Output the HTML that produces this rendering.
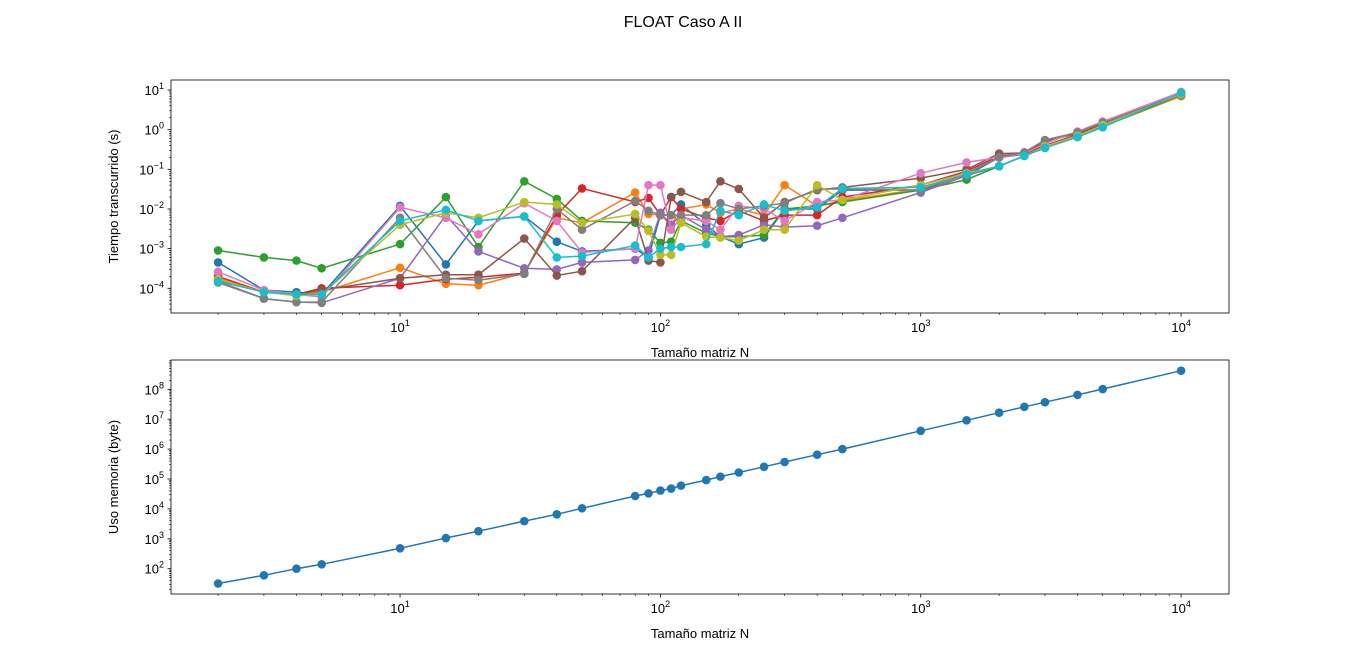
<!DOCTYPE html>
<html><head><meta charset="utf-8"><style>
html,body{margin:0;padding:0;background:#fff;}
svg{display:block;font-family:"Liberation Sans","DejaVu Sans",sans-serif;}
</style></head><body>
<svg id="fig" width="1366" height="667" viewBox="0 0 1366 667">
<text x="683" y="27" text-anchor="middle" font-size="16">FLOAT Caso A II</text>
</svg>
<script>
const Ns=[2,3,4,5,10,15,20,30,40,50,80,90,100,110,120,150,170,200,250,300,400,500,1000,1500,2000,2500,3000,4000,5000,10000];
const tBlue=[4.5e-4,9e-5,8e-5,7e-5,1.2e-2,4e-4,5e-3,6.5e-3,1.5e-3,8.5e-4,1e-3,6e-4,7e-3,7e-3,1.3e-2,4e-3,2e-3,1.3e-3,1.9e-3,1e-2,1e-2,3e-2,3e-2,7e-2,0.2,0.24,0.38,0.7,1.3,8];
const tOrange=[1.8e-4,8e-5,7e-5,8e-5,3.3e-4,1.3e-4,1.2e-4,2.4e-4,6e-3,4.5e-3,2.6e-2,7.5e-3,7e-3,4e-3,1e-2,1.3e-2,8e-3,1e-2,7e-3,4e-2,1.2e-2,1.6e-2,3.2e-2,7e-2,0.12,0.22,0.35,0.65,1.2,7];
const tGreen=[9e-4,6e-4,5e-4,3.2e-4,1.3e-3,2e-2,1.1e-3,5e-2,1.8e-2,5e-3,4.5e-3,3e-3,1.4e-3,1.5e-3,5e-3,2.5e-3,2e-3,2e-3,2.2e-3,1e-2,1.2e-2,1.5e-2,3e-2,5.5e-2,0.12,0.22,0.35,0.7,1.2,7.5];
const tRed=[2e-4,8e-5,7e-5,1e-4,1.2e-4,1.7e-4,1.9e-4,2.4e-4,7e-3,3.3e-2,1.5e-2,1.9e-2,7e-3,2e-2,1e-2,6e-3,5e-3,9e-3,5e-3,7e-3,7e-3,2e-2,4e-2,9e-2,0.22,0.25,0.4,0.75,1.4,8];
const tPurple=[1.5e-4,5.5e-5,4.5e-5,4.3e-5,1.8e-4,7e-3,8.5e-4,3.2e-4,3e-4,4.5e-4,5.2e-4,9e-4,8e-3,4e-3,7e-3,3e-3,2e-3,2.2e-3,4e-3,3.5e-3,3.8e-3,6e-3,2.6e-2,7e-2,0.12,0.22,0.38,0.7,1.3,8.5];
const tBrown=[1.6e-4,8e-5,7e-5,9e-5,1.8e-4,2.2e-4,2.2e-4,1.8e-3,2.1e-4,2.7e-4,6e-3,5e-4,4.5e-4,2e-2,2.7e-2,1.5e-2,5e-2,3.2e-2,6e-3,1.5e-2,3e-2,3.5e-2,6e-2,1e-1,0.25,0.26,0.5,0.8,1.5,8];
const tPink=[2.6e-4,9e-5,7e-5,6e-5,1.1e-2,6e-3,2.3e-3,1.4e-2,5e-3,8e-4,1e-3,4e-2,4e-2,3e-3,6e-3,5e-3,3e-3,1.2e-2,1e-2,5e-3,1.5e-2,1.7e-2,8e-2,1.5e-1,0.2,0.25,0.45,0.9,1.6,9];
const tGray=[1.4e-4,5.5e-5,4.5e-5,4.5e-5,6e-3,1.8e-4,1.6e-4,2.3e-4,1e-2,3e-3,1.6e-2,9e-3,7e-3,7e-3,7e-3,7e-3,1.4e-2,1e-2,1.2e-2,1.4e-2,3.2e-2,3.2e-2,3e-2,8e-2,0.2,0.27,0.55,0.85,1.5,7.5];
const tOlive=[1.7e-4,8e-5,6.5e-5,7e-5,4e-3,8e-3,6e-3,1.5e-2,1.3e-2,4.5e-3,7.5e-3,2.8e-3,7e-4,7e-4,4.5e-3,2e-3,1.9e-3,1.6e-3,3e-3,3e-3,4e-2,1.7e-2,4e-2,8e-2,0.12,0.22,0.38,0.7,1.3,8];
const tCyan=[1.5e-4,8e-5,7e-5,7e-5,5e-3,9.5e-3,5e-3,6.5e-3,6e-4,6.5e-4,1.2e-3,6e-4,1e-3,1.1e-3,1.1e-3,1.3e-3,9e-3,7e-3,1.3e-2,9e-3,1.1e-2,3.3e-2,3.5e-2,7.5e-2,0.12,0.22,0.35,0.65,1.15,8.5];
const memBytes=[32,60,100,140,480,1060,1800,3900,6600,10500,27000,33000,41000,48000,60000,92000,120000,165000,255000,370000,650000,1000000,4100000,9200000,16500000,26000000,37000000,65000000,102000000,420000000];
const seriesNames=['blue','orange','green','red','purple','brown','pink','gray','olive','cyan'];
const colors=['#1f77b4','#ff7f0e','#2ca02c','#d62728','#9467bd','#8c564b','#e377c2','#7f7f7f','#bcbd22','#17becf'];
const timeSeries=[tBlue,tOrange,tGreen,tRed,tPurple,tBrown,tPink,tGray,tOlive,tCyan];
const xTicks=[1,2,3,4];
const topYTicks=[-4,-3,-2,-1,0,1];
const botYTicks=[2,3,4,5,6,7,8];

const NS='http://www.w3.org/2000/svg';
const svg=document.getElementById('fig');
function mk(tag,attrs,parent){const e=document.createElementNS(NS,tag);for(const k in attrs)e.setAttribute(k,attrs[k]);(parent||svg).appendChild(e);return e;}
const L=171,R=1229;
const xLo=0.1202,xHi=4.184;
function xs(v){return L+(Math.log10(v)-xLo)/(xHi-xLo)*(R-L);}
function makeY(p0,e0,dec){return v=>p0-(Math.log10(v)-e0)*dec;}
const yTop=makeY(288.3,-4,39.65);
const yBot=makeY(568.7,2,29.9);

function axes(name,top,bot,ys,yTicks,eMin,eMax,ylabel){
  const g=mk('g',{});
  
  
  for(let e=0;e<=4;e++){for(let m=1;m<10;m++){const v=m*Math.pow(10,e);const lx=Math.log10(v);if(lx<xLo||lx>xHi)continue;const x=xs(v);
    mk('line',{x1:x,x2:x,y1:bot,y2:bot+(m==1?3.5:2),stroke:'#000','stroke-width':m==1?0.8:0.6},g);}}
  xTicks.forEach(e=>{const t=mk('text',{x:xs(Math.pow(10,e)),y:bot+19,'text-anchor':'middle','font-size':13},g);
    
    t.innerHTML='10<tspan dy="-6" font-size="9">'+e+'</tspan>';});
  for(let e=eMin;e<=eMax;e++){for(let m=1;m<10;m++){const v=m*Math.pow(10,e);const y=ys(v);if(y<top||y>bot)continue;
    mk('line',{x1:L,x2:L-(m==1?3.5:2),y1:y,y2:y,stroke:'#000','stroke-width':m==1?0.8:0.6},g);}}
  yTicks.forEach(e=>{const y=ys(Math.pow(10,e));const t=mk('text',{x:L-7,y:y+5,'text-anchor':'end','font-size':13},g);
    
    const s=e<0?'\u2212'+(-e):''+e;
    t.innerHTML='10<tspan dy="-6" font-size="9">'+s+'</tspan>';});
  const xl=mk('text',{x:(L+R)/2,y:bot+44,'text-anchor':'middle','font-size':13},g);xl.textContent='Tamaño matriz N';
  
  const cy=(top+bot)/2;
  const yl=mk('text',{x:0,y:0,'text-anchor':'middle','font-size':13,transform:'translate(118,'+cy+') rotate(-90)'},g);yl.textContent=ylabel;
  
  return g;
}
function series(vals,ys,color,nm,g){
  const pts=Ns.map((n,i)=>xs(n).toFixed(1)+','+ys(vals[i]).toFixed(1)).join(' ');
  const s=mk('g',{},g);
  
  
  mk('polyline',{points:pts,fill:'none',stroke:color,'stroke-width':1.5},s);
  Ns.forEach((n,i)=>{const c=mk('circle',{cx:xs(n),cy:ys(vals[i]),r:4.3,fill:color},s);
    });
}
const g1=axes('time-axes',80,313,yTop,topYTicks,-5,1,'Tiempo transcurrido (s)');
timeSeries.forEach((v,i)=>series(v,yTop,colors[i],'series-'+seriesNames[i],g1));
const f1=mk('rect',{x:L,y:80,width:R-L,height:233,fill:'none',stroke:'#000','stroke-width':0.8},g1);

const g2=axes('memory-axes',360,594,yBot,botYTicks,1,8,'Uso memoria (byte)');
series(memBytes,yBot,colors[0],'series-memory',g2);
const f2=mk('rect',{x:L,y:360,width:R-L,height:234,fill:'none',stroke:'#000','stroke-width':0.8},g2);

</script>
</body></html>
